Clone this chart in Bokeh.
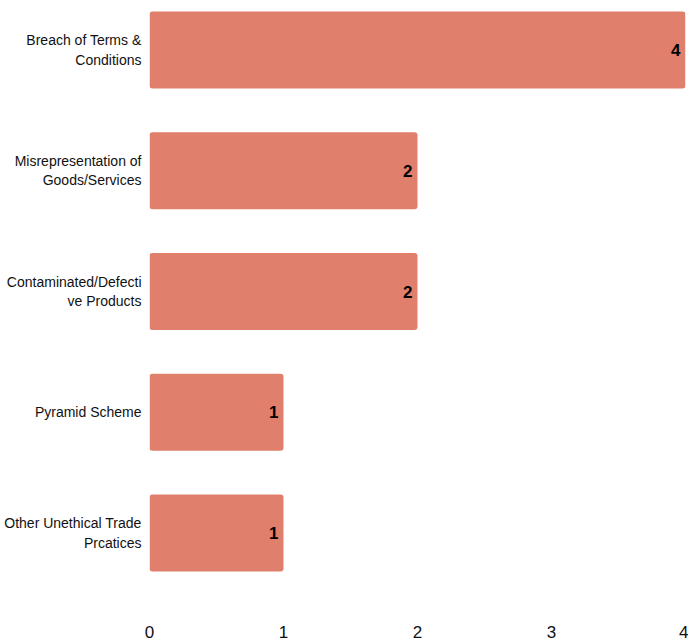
from bokeh.plotting import figure
from bokeh.models import ColumnDataSource, FixedTicker, Range1d
from bokeh.core.properties import value
from bokeh.embed import file_html
from bokeh.resources import INLINE

categories = ["Breach of Terms & Conditions", "Misrepresentation of Goods/Services",
              "Contaminated/Defective Products", "Pyramid Scheme",
              "Other Unethical Trade Prcatices"]
tick_labels = ["Breach of Terms &\nConditions", "Misrepresentation of\nGoods/Services",
               "Contaminated/Defecti\nve Products", "Pyramid Scheme",
               "Other Unethical Trade\nPrcatices"]
counts = [4, 2, 2, 1, 1]
x_ticks = [0, 1, 2, 3, 4]

n = len(categories)
ypos = [n - 1 - i for i in range(n)]
src = ColumnDataSource(dict(y=ypos, v=counts, lab=[str(c) for c in counts], cat=categories))

FONT = "Liberation Sans"

p = figure(width=688, height=644, output_backend="svg", toolbar_location=None,
           x_range=Range1d(0, 4), y_range=Range1d(-0.6584, 4.41),
           min_border_left=149, min_border_right=3, min_border_top=0, min_border_bottom=32)
p.hbar(y="y", right="v", left=0, height=0.638, source=src, fill_color="#E07F6B",
       line_color=None, border_radius=3)
p.text(x="v", y="y", text="lab", source=src, text_align="right", text_baseline="middle",
       x_offset=-5, text_font=value(FONT), text_font_style="bold", text_font_size="17px",
       text_color="#000000")

p.xgrid.visible = False
p.ygrid.visible = False
p.outline_line_color = None

p.xaxis.ticker = FixedTicker(ticks=x_ticks)
p.xaxis.axis_line_color = None
p.xaxis.major_tick_line_color = None
p.xaxis.minor_tick_line_color = None
p.xaxis.major_tick_out = 0
p.xaxis.minor_tick_out = 0
p.xaxis.major_label_standoff = 13
p.xaxis.major_label_text_font = FONT
p.xaxis.major_label_text_font_size = "17px"
p.xaxis.major_label_text_color = "#111111"

p.yaxis.ticker = FixedTicker(ticks=ypos)
p.yaxis.major_label_overrides = {float(y): t for y, t in zip(ypos, tick_labels)}
p.yaxis.axis_line_color = None
p.yaxis.major_tick_line_color = None
p.yaxis.minor_tick_line_color = None
p.yaxis.major_tick_out = 0
p.yaxis.minor_tick_out = 0
p.yaxis.major_label_standoff = 8
p.yaxis.major_label_text_font = FONT
p.yaxis.major_label_text_font_size = "14px"
p.yaxis.major_label_text_color = "#111111"
p.yaxis.major_label_text_align = "right"

open("out.html", "w").write(file_html(p, INLINE))
